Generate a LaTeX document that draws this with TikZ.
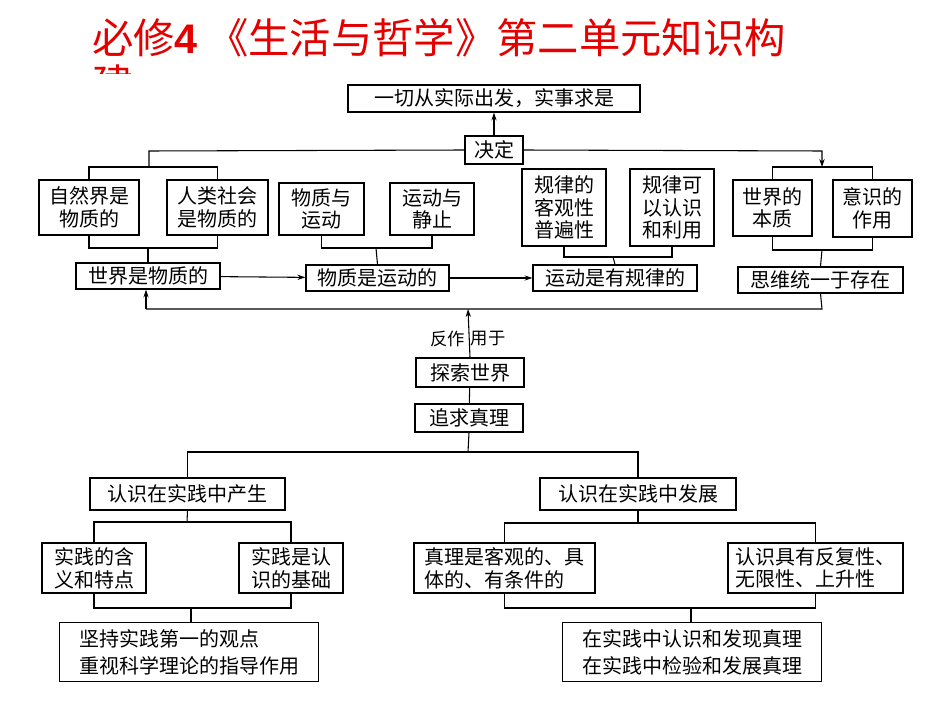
\documentclass[tikz,border=0pt]{standalone}
\usepackage{fontspec}
\setmainfont{Noto Sans CJK SC}
\usetikzlibrary{arrows.meta}
\newcommand\mybox[7][center]{\node[box,align=#1,minimum width={(#5-#3)*0.75pt},minimum height={(#6-#4)*0.75pt}] (#2) at ({(#3+#5)/2},{(#4+#6)/2}) {#7};}
\begin{document}
\begin{tikzpicture}[x=0.75pt,y=-0.75pt,
  box/.style={draw,line width=0.9pt,inner sep=1pt,font=\fontsize{15pt}{17pt}\selectfont},
  ln/.style={line width=0.8pt},
  ar/.style={line width=0.8pt,-{Stealth[length=6pt,width=4pt]}}]
\useasboundingbox (0,0) rectangle (950,713);
\node[anchor=base west,text=red!90!black,font=\fontsize{31pt}{31pt}\selectfont,inner sep=0] (title) at (92,54) {必修\textbf{\fontspec{Liberation Sans}4} 《生活与哲学》第二单元知识构};
\begin{scope}
\clip (80,64) rectangle (200,74);
\node[anchor=base west,text=red!90!black,font=\fontsize{31pt}{31pt}\selectfont,inner sep=0] (title2) at (92,100) {建};
\end{scope}
\mybox{top}{348}{85}{640}{112}{一切从实际出发，实事求是}
\mybox{jd}{465}{136}{523}{164}{决定}
\mybox{zr}{39}{180}{139}{235}{自然界是\\物质的}
\mybox{rl}{167}{180}{268}{235}{人类社会\\是物质的}
\mybox{wy}{279}{183}{364}{235}{物质与\\运动}
\mybox{yj}{390}{183}{474}{235}{运动与\\静止}
\mybox{gk}{522}{169}{606}{246}{规律的\\客观性\\普遍性}
\mybox{gr}{630}{169}{714}{246}{规律可\\以认识\\和利用}
\mybox{sb}{733}{180}{812}{236}{世界的\\本质}
\mybox{yz}{833}{180}{912}{237}{意识的\\作用}
\mybox{s1}{76}{263}{220}{289}{世界是物质的}
\mybox{s2}{306}{265}{449}{291}{物质是运动的}
\mybox{s3}{533}{265}{697}{291}{运动是有规律的}
\mybox{s4}{738}{267}{903}{293}{思维统一于存在}
\mybox{ts}{416}{358}{524}{387}{探索世界}
\mybox{zq}{415}{404}{523}{432}{追求真理}
\mybox{cs}{90}{478}{285}{510}{认识在实践中产生}
\mybox{fz}{540}{478}{736}{510}{认识在实践中发展}
\mybox[left]{hy}{42}{543}{146}{593}{实践的含\\义和特点}
\mybox[left]{jc}{239}{543}{343}{593}{实践是认\\识的基础}
\mybox[left]{zl}{414}{543}{595}{593}{真理是客观的、具\\体的、有条件的}
\mybox[left]{fu}{728}{543}{903}{593}{认识具有反复性、\\无限性、上升性}
\node[draw,line width=0.9pt,anchor=north west,minimum width={259*0.75pt},minimum height={59*0.75pt},inner xsep=12pt,align=left,font=\fontsize{15pt}{20pt}\selectfont] (jz) at (59,622) {坚持实践第一的观点\\重视科学理论的指导作用};
\node[draw,line width=0.9pt,anchor=north west,minimum width={259*0.75pt},minimum height={59*0.75pt},inner xsep=5pt,align=left,font=\fontsize{15pt}{20pt}\selectfont] (zs) at (562,622) {在实践中认识和发现真理\\在实践中检验和发展真理};
\coordinate (L) at (149,151); \coordinate (R) at (822,151);
\coordinate (fb) at (822,309); \coordinate (fbl) at (146,309); \coordinate (fbm) at (468,309);
\draw[ar] (jd) -- (top);
\draw[ln] (jd.west) -- (L) -- (149,167);
\draw[ln] (zr.north) |- (149,167) -| (rl.north);
\draw[ar] (jd.east) -- (R) -- (822,167);
\draw[ln] (sb.north) |- (822,167) -| (yz.north);
\draw[ln] (zr.south) |- (148,248) -| (rl.south); \draw[ln] (148,248) -- (s1.north);
\draw[ln] (wy.south) |- (376,248) -| (yj.south); \draw[ln] (376,248) -- (s2.north);
\draw[ln] (gk.south) |- (613,257) -| (gr.south); \draw[ln] (613,257) -- (s3.north);
\draw[ln] (sb.south) |- (822,250) -| (yz.south); \draw[ln] (822,250) -- (s4.north);
\draw[ar] (s1) -- (s2);
\draw[ar] (s2) -- (s3);
\draw[ln] (s4.south) -- (fb) -- (fbl);
\draw[ar] (fbl) -- (fbl |- s1.south);
\draw[ar] (ts.north) -- (fbm);
\node[font=\fontsize{13pt}{13pt}\selectfont,anchor=east,inner sep=2pt] (l1) at (468,339) {反作};
\node[font=\fontsize{13pt}{13pt}\selectfont,anchor=west,inner sep=2pt] (l2) at (468,339) {用于};
\draw[ln] (ts) -- (zq);
\draw[ln] (zq.south) -- (468,452);
\draw[ln] (cs.north) |- (468,452) -| (fz.north);
\draw[ln] (cs.south) -- (187,522);
\draw[ln] (hy.north) |- (187,522) -| (jc.north);
\draw[ln] (hy.south) |- (191,608) -| (jc.south); \draw[ln] (191,608) -- (jz.north -| 191,0);
\draw[ln] (fz.south) -- (638,523);
\draw[ln] (zl.north) |- (638,523) -| (fu.north);
\draw[ln] (zl.south) |- (691,608) -| (fu.south); \draw[ln] (691,608) -- (zs.north -| 691,0);
\end{tikzpicture}
\end{document}
